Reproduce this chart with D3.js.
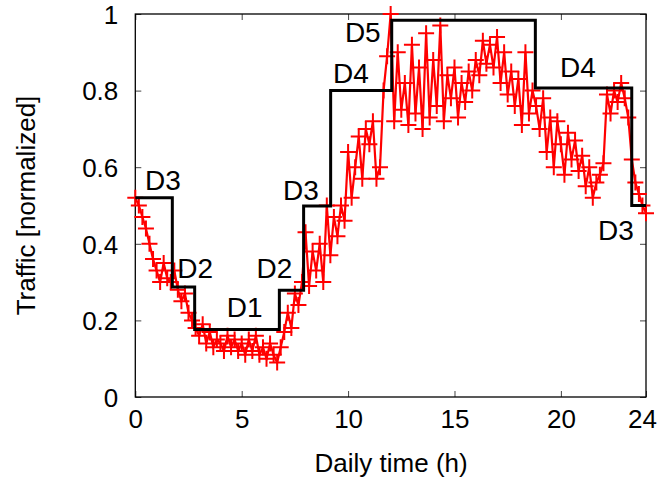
<!DOCTYPE html>
<html>
<head>
<meta charset="utf-8">
<script src="https://cdn.jsdelivr.net/npm/d3@7"></script>
<style>
  html, body { margin: 0; padding: 0; background: #fff; }
  svg { display: block; font-family: "Liberation Sans", Arial, sans-serif; }
</style>
</head>
<body>
<div id="chart"></div>
<script>
// ---- data ----
const trafficValues = [
  0.52, 0.50, 0.47, 0.44, 0.40, 0.36,
  0.33, 0.30, 0.35, 0.31, 0.30, 0.33,
  0.28, 0.25, 0.27, 0.22, 0.20, 0.18,
  0.16, 0.19, 0.14, 0.17, 0.13, 0.15,
  0.14, 0.12, 0.16, 0.13, 0.15, 0.12,
  0.14, 0.11, 0.15, 0.12, 0.16, 0.11,
  0.13, 0.10, 0.14, 0.11, 0.09, 0.13,
  0.17, 0.22, 0.18, 0.27, 0.24, 0.30,
  0.43, 0.29, 0.38, 0.33, 0.40, 0.30,
  0.50, 0.37, 0.47, 0.42, 0.50, 0.46,
  0.64, 0.52, 0.60, 0.68, 0.57, 0.70,
  0.66, 0.72, 0.57, 0.60, 0.80, 0.89,
  1.00, 0.72, 0.90, 0.75, 0.82, 0.71,
  0.92, 0.74, 0.86, 0.70, 0.95, 0.73,
  0.88, 0.76, 0.97, 0.72, 0.84, 0.78,
  0.86, 0.73, 0.82, 0.77, 0.85, 0.80,
  0.88, 0.84, 0.93, 0.87, 0.92, 0.86,
  0.94, 0.82, 0.90, 0.79, 0.85, 0.76,
  0.83, 0.71, 0.90, 0.74, 0.80, 0.76,
  0.70, 0.78, 0.64, 0.73, 0.60, 0.72,
  0.66, 0.58, 0.69, 0.62, 0.67, 0.59,
  0.63, 0.55, 0.60, 0.52, 0.56, 0.58,
  0.61, 0.79, 0.74, 0.80, 0.77, 0.82,
  0.78, 0.73, 0.62, 0.56, 0.53, 0.50, 0.48
];
const sampleStepHours = 1 / 6;   // 10-minute samples
const stepHours  = [0, 1.74, 2.79, 6.77, 7.91, 9.18, 12.05, 18.8, 23.33, 24];
const stepLevels = [0.52, 0.287, 0.176, 0.279, 0.499, 0.80, 0.984, 0.807, 0.50, 0.50];
const labelTexts  = ["D3", "D2", "D1", "D2", "D3", "D4", "D5", "D4", "D3"];
const labelHours  = [0.46, 1.97, 4.30, 5.70, 6.94, 9.29, 9.85, 19.96, 21.74];
const labelLevels = [0.54, 0.311, 0.21, 0.311, 0.514, 0.819, 0.928, 0.836, 0.41];
const xTicks = [0, 5, 10, 15, 20, 24];
const yTicks = [0, 0.2, 0.4, 0.6, 0.8, 1];
const xTitle = "Daily time (h)";
const yTitle = "Traffic [normalized]";

// ---- layout ----
const W = 659, H = 482;
const m = { left: 135.3, right: W - 646, top: 14, bottom: H - 397 };
const svg = d3.select("#chart").append("svg").attr("width", W).attr("height", H);

const x = d3.scaleLinear().domain([0, 24]).range([m.left, W - m.right]);
const y = d3.scaleLinear().domain([0, 1]).range([H - m.bottom, m.top]);

const traffic = trafficValues.map((v, i) => ({ t: i * sampleStepHours, v }));
const steps = stepHours.map((t, i) => ({ t, v: stepLevels[i] }));

// ticks (inward on all four sides)
const tickLen = 6;
const axisFont = 26;
const g = svg.append("g");
const axB = d3.axisBottom(x).tickValues(xTicks).tickSize(-tickLen).tickPadding(12).tickFormat(d3.format("d"));
const axT = d3.axisTop(x).tickValues(xTicks).tickSize(-tickLen).tickFormat("");
const axL = d3.axisLeft(y).tickValues(yTicks).tickSize(-tickLen).tickPadding(17).tickFormat(d => d === 0 || d === 1 ? d3.format("d")(d) : d3.format(".1f")(d));
const axR = d3.axisRight(y).tickValues(yTicks).tickSize(-tickLen).tickFormat("");

function styleAxis(sel) {
  sel.select(".domain").remove();
  sel.selectAll(".tick line").attr("stroke", "#444").attr("stroke-width", 1);
  sel.selectAll(".tick text").attr("fill", "#000").attr("font-size", axisFont)
    .attr("font-family", "Liberation Sans, Arial, sans-serif");
}
g.append("g").attr("transform", `translate(0,${y(0)})`).call(axB).call(styleAxis)
  .selectAll(".tick text").attr("dy", "0.72em")
  .attr("dx", d => d === 24 ? -4 : 0);
g.append("g").attr("transform", `translate(0,${y(1)})`).call(axT).call(styleAxis);
g.append("g").attr("transform", `translate(${x(0)},0)`).call(axL).call(styleAxis)
  .selectAll(".tick text").attr("dy", "0.36em");
g.append("g").attr("transform", `translate(${x(24)},0)`).call(axR).call(styleAxis);

// frame
svg.append("rect")
  .attr("x", x(0)).attr("y", y(1))
  .attr("width", x(24) - x(0)).attr("height", y(0) - y(1))
  .attr("fill", "none").attr("stroke", "#000").attr("stroke-width", 1.3);

// red traffic line + markers
const line = d3.line().x(d => x(d.t)).y(d => y(d.v));
svg.append("path").datum(traffic)
  .attr("d", line).attr("fill", "none").attr("stroke", "#ff0000").attr("stroke-width", 2.2);
const ms = 8;
svg.append("g").selectAll("path.mk").data(traffic).join("path")
  .attr("class", "mk")
  .attr("d", d => `M${x(d.t) - ms},${y(d.v)}H${x(d.t) + ms}M${x(d.t)},${y(d.v) - ms}V${y(d.v) + ms}`)
  .attr("stroke", "#ff0000").attr("stroke-width", 2).attr("fill", "none");

// black step line
const stepLine = d3.line().x(d => x(d.t)).y(d => y(d.v)).curve(d3.curveStepAfter);
svg.append("path").datum(steps)
  .attr("d", stepLine).attr("fill", "none").attr("stroke", "#000").attr("stroke-width", 3);

// labels
svg.append("g").selectAll("text").data(labelTexts).join("text")
  .attr("x", (d, i) => x(labelHours[i]))
  .attr("y", (d, i) => y(labelLevels[i]))
  .attr("font-size", 28).attr("fill", "#000")
  .text(d => d);

// axis titles
svg.append("text")
  .attr("x", (x(0) + x(24)) / 2 + 0.5).attr("y", 472)
  .attr("text-anchor", "middle").attr("font-size", axisFont).attr("fill", "#000")
  .text(xTitle);
svg.append("text")
  .attr("transform", `translate(35,${(y(0) + y(1)) / 2})rotate(-90)`)
  .attr("text-anchor", "middle").attr("font-size", axisFont).attr("fill", "#000")
  .text(yTitle);
</script>
</body>
</html>
